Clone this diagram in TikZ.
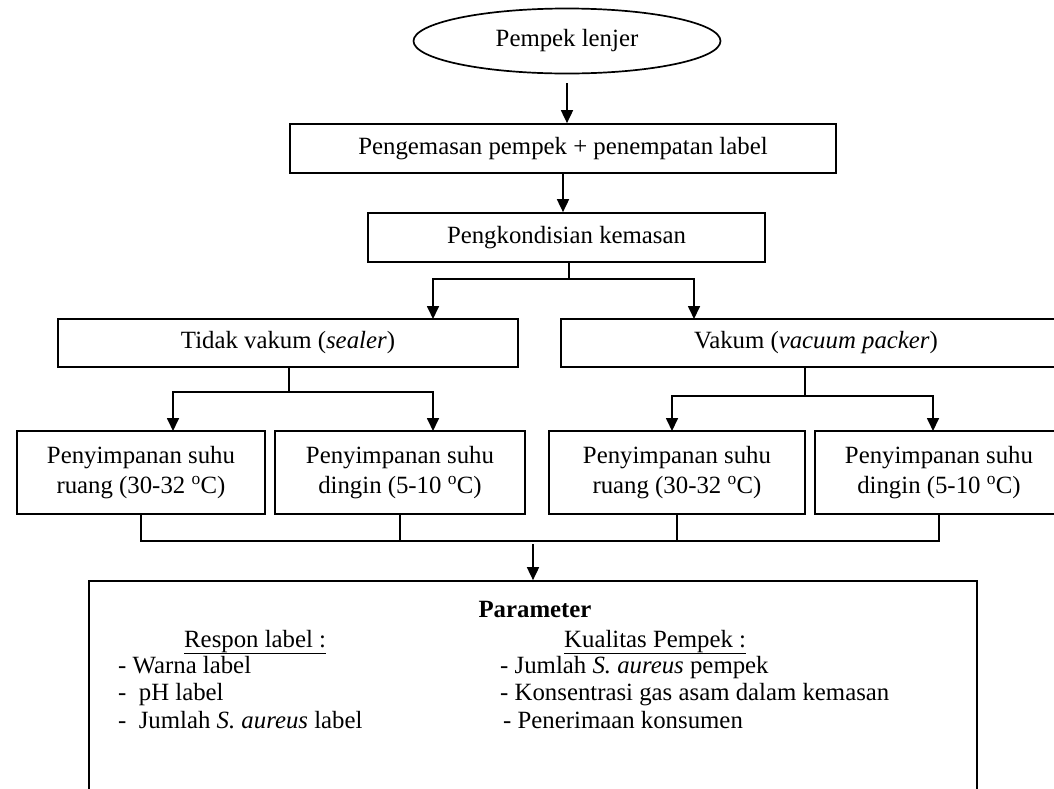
\documentclass[tikz,border=0pt]{standalone}
\usepackage{fontspec}
\setmainfont{Liberation Serif}
\usetikzlibrary{arrows.meta,shapes.geometric}
\begin{document}
\begin{tikzpicture}[x=1pt,y=-1pt,
  every node/.style={font=\fontsize{24.8}{29.5}\selectfont},
  box/.style={draw,line width=1.7pt,inner sep=0pt,align=center},
  arr/.style={line width=1.7pt,-{Triangle[width=12pt,length=13pt]}},
  ln/.style={line width=1.7pt},
  txt/.style={anchor=base west,inner sep=0pt}]
\clip (0,0) rectangle (1054,788);
\fill[white] (0,0) rectangle (1054,788);
% nodes
\node[box,ellipse,minimum width=307pt,minimum height=65pt] (ell) at (567,41) {Pempek lenjer};
\node[box,minimum width=546pt,minimum height=49pt] (b1) at (563,148.5) {Pengemasan pempek + penempatan label};
\node[box,minimum width=397pt,minimum height=49pt] (b2) at (566.5,237.5) {Pengkondisian kemasan};
\node[box,minimum width=460pt,minimum height=48pt] (tb) at (288,343) {Tidak vakum (\textit{sealer})};
\node[box,minimum width=510pt,minimum height=48pt] (vk) at (816,343) {Vakum (\textit{vacuum packer})};
\node[box,minimum width=248pt,minimum height=83pt] (A) at (141,472.5) {Penyimpanan suhu\\ruang (30-32 \textsuperscript{o}C)};
\node[box,minimum width=250pt,minimum height=83pt] (B) at (400,472.5) {Penyimpanan suhu\\dingin (5-10 \textsuperscript{o}C)};
\node[box,minimum width=256pt,minimum height=83pt] (C) at (677,472.5) {Penyimpanan suhu\\ruang (30-32 \textsuperscript{o}C)};
\node[box,minimum width=248pt,minimum height=83pt] (D) at (939,472.5) {Penyimpanan suhu\\dingin (5-10 \textsuperscript{o}C)};
\node[box,minimum width=888pt,minimum height=330pt] (par) at (533,746) {};
% texts in parameter box
\node[anchor=base,inner sep=0pt] (ptitle) at (535,617) {\textbf{Parameter}};
\node[txt] (rl) at (184,647) {\underline{Respon label :}};
\node[txt] (kp) at (564,647) {\underline{Kualitas Pempek :}};
\node[txt] (l1) at (118,673) {- Warna label};
\node[txt] (l2) at (118,700) {-\ \ pH label};
\node[txt] (l3) at (118,728) {-\ \ Jumlah \textit{S. aureus} label};
\node[txt] (r1) at (500,673) {- Jumlah \textit{S. aureus} pempek};
\node[txt] (r2) at (500,700) {- Konsentrasi gas asam dalam kemasan};
\node[txt] (r3) at (503,728) {- Penerimaan konsumen};
% connectors
\draw[arr] ([yshift=-9pt]ell.south) -- (ell.south |- b1.north);
\draw[arr] (b1.south) -- (b1.south |- b2.north);
\coordinate (j1) at (569,279);
\coordinate (t1) at (433,319);
\coordinate (v1) at (694,319);
\draw[ln] (b2.south -| j1) -- (j1);
\draw[arr] (j1) -| (t1);
\draw[arr] (j1) -| (v1);
\coordinate (j2) at (289,392);
\coordinate (a1) at (173,431);
\coordinate (b1t) at (433,431);
\draw[ln] (tb.south -| j2) -- (j2);
\draw[arr] (j2) -| (a1);
\draw[arr] (j2) -| (b1t);
\coordinate (j3) at (805,396);
\coordinate (c1) at (672,431);
\coordinate (d1) at (933,431);
\draw[ln] (vk.south -| j3) -- (j3);
\draw[arr] (j3) -| (c1);
\draw[arr] (j3) -| (d1);
\coordinate (bus) at (0,541);
\draw[ln] (A.south) -- (A.south |- bus) -- (D.south |- bus) -- (D.south);
\draw[ln] (B.south) -- (B.south |- bus);
\draw[ln] (C.south) -- (C.south |- bus);
\coordinate (a0) at (533,544);
\draw[arr] (a0) -- (a0 |- par.north);
\end{tikzpicture}
\end{document}
